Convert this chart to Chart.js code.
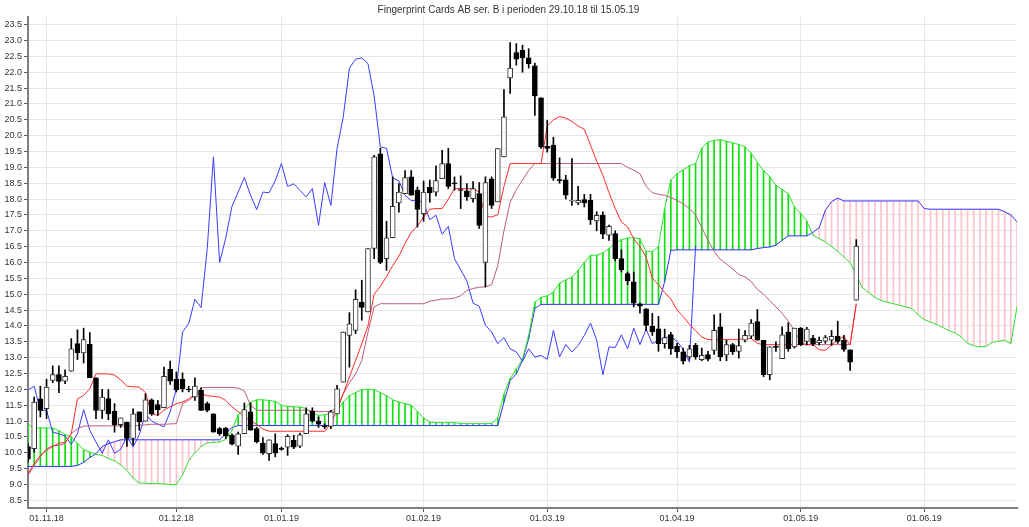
<!DOCTYPE html>
<html>
<head>
<meta charset="utf-8">
<script src="https://cdn.jsdelivr.net/npm/chart.js@4.4.1/dist/chart.umd.min.js"></script>
<style>
  html, body { margin: 0; padding: 0; background: #fff; }
  #wrap { width: 1029px; height: 527px; }
</style>
</head>
<body>
<div id="wrap"><canvas id="chart" width="1029" height="527"></canvas></div>
<script>
const TITLE = 'Fingerprint Cards AB ser. B i perioden 29.10.18 til 15.05.19';

// month ticks (trading day index -> label)
const tickIndex = [3, 24, 41, 64, 84, 105, 125, 145];
const tickLabels = ['01.11.18', '01.12.18', '01.01.19', '01.02.19', '01.03.19', '01.04.19', '01.05.19', '01.06.19'];

// daily candles 29.10.18 - 15.05.19
const opens = [
  10.2, 10.13, 11.7, 11.39, 12.28, 12.47, 12.26, 12.57, 13.44, 13.15,
  13.42, 12.36, 11.34, 11.71, 11.31, 10.89, 10.97, 10.45, 11.29, 11.0,
  11.67, 11.52, 11.42, 12.63, 12.32, 12.32, 12.0, 11.76, 11.97, 11.55,
  11.23, 10.76, 10.78, 10.55, 10.21, 10.6, 11.29, 10.76, 10.31, 9.97,
  10.29, 10.15, 10.18, 10.39, 10.21, 10.6, 11.31, 11.0, 10.84, 10.83,
  11.23, 12.23, 13.7, 13.86, 14.75, 14.44, 16.44, 19.43, 16.12, 16.78,
  17.88, 18.17, 18.7, 18.28, 17.54, 18.37, 18.22, 18.64, 19.12, 18.5,
  18.3, 18.26, 18.01, 18.17, 16.0, 18.64, 17.91, 19.33, 21.82, 22.62,
  22.69, 22.45, 22.2, 21.19, 19.66, 19.7, 18.6, 18.61, 17.93, 17.88,
  17.98, 17.96, 17.31, 17.49, 16.86, 16.91, 16.12, 15.65, 15.39, 14.7,
  14.54, 13.99, 13.91, 13.44, 13.73, 13.36, 13.18, 13.02, 13.39, 12.94,
  13.1, 13.23, 13.97, 13.09, 13.41, 13.2, 13.55, 13.68, 14.14, 13.55,
  12.46, 13.36, 12.97, 13.81, 13.34, 13.93, 13.51, 13.62, 13.47, 13.52,
  13.55, 13.68, 13.55, 13.25, 14.81
];
const highs = [
  10.3, 11.76, 12.1, 12.32, 12.74, 12.74, 12.62, 13.6, 13.88, 13.93,
  13.79, 12.36, 12.0, 11.99, 11.55, 11.1, 10.97, 11.39, 11.29, 11.86,
  11.7, 11.65, 12.7, 12.89, 12.55, 12.52, 12.1, 12.36, 12.05, 11.6,
  11.23, 10.8, 10.8, 10.6, 10.65, 11.57, 11.57, 10.81, 10.48, 10.41,
  10.6, 10.18, 10.57, 10.55, 10.62, 11.42, 11.42, 11.13, 10.92, 11.34,
  12.13, 13.81, 14.42, 15.14, 15.44, 16.44, 19.38, 19.6, 17.3, 18.7,
  18.49, 18.9, 18.9, 18.38, 18.57, 18.6, 19.05, 19.54, 19.6, 18.7,
  18.73, 18.49, 18.55, 18.52, 18.7, 18.7, 19.59, 21.45, 22.93, 22.9,
  22.85, 22.74, 22.29, 21.19, 20.48, 19.95, 19.3, 18.75, 19.28, 18.4,
  18.15, 18.15, 17.6, 17.6, 17.18, 17.0, 16.4, 15.7, 15.7, 14.72,
  14.55, 14.4, 14.3, 13.9, 13.8, 13.45, 13.3, 13.39, 13.45, 13.3,
  13.2, 14.35, 14.39, 13.55, 13.45, 13.9, 13.85, 14.2, 14.52, 13.55,
  13.34, 13.5, 13.97, 14.1, 13.93, 13.95, 13.96, 13.7, 13.65, 13.7,
  13.86, 14.15, 13.7, 13.25, 16.72
];
const lows = [
  9.7, 10.02, 11.13, 11.08, 12.21, 11.9, 12.18, 12.57, 12.94, 12.83,
  12.37, 11.08, 11.08, 11.04, 10.65, 10.8, 10.2, 10.25, 10.71, 11.0,
  11.18, 11.18, 11.42, 12.16, 11.92, 11.92, 11.92, 11.65, 11.34, 11.29,
  10.65, 10.55, 10.45, 10.25, 9.95, 10.6, 10.71, 10.31, 9.95, 9.76,
  9.87, 10.08, 9.92, 10.13, 10.16, 10.6, 10.97, 10.8, 10.76, 10.76,
  11.23, 12.23, 12.7, 13.76, 14.18, 14.44, 16.12, 15.96, 15.75, 16.78,
  17.59, 18.17, 18.12, 17.12, 17.3, 17.9, 18.1, 18.64, 18.33, 18.28,
  17.7, 17.96, 17.9, 17.07, 15.23, 17.7, 17.91, 19.33, 21.33, 22.22,
  22.0, 22.13, 20.64, 19.6, 19.48, 18.59, 18.5, 18.0, 17.8, 17.82,
  17.75, 17.2, 17.0, 16.75, 16.7, 16.05, 15.7, 15.3, 14.6, 14.4,
  13.85, 13.7, 13.2, 13.3, 13.1, 13.0, 12.8, 12.95, 12.95, 12.9,
  12.9, 13.1, 12.9, 12.9, 13.1, 12.98, 13.5, 13.6, 13.55, 12.4,
  12.3, 13.2, 12.97, 13.2, 13.3, 13.38, 13.4, 13.38, 13.4, 13.45,
  13.39, 13.45, 13.2, 12.6, 14.81
];
const closes = [
  9.8, 11.6, 11.34, 12.07, 12.47, 12.25, 12.41, 13.28, 13.16, 13.57,
  12.37, 11.34, 11.76, 11.23, 10.89, 11.1, 10.45, 11.23, 10.97, 11.67,
  11.23, 11.36, 12.41, 12.26, 11.99, 12.02, 11.98, 12.1, 11.34, 11.34,
  10.65, 10.6, 10.53, 10.27, 10.6, 11.36, 10.71, 10.34, 9.99, 10.41,
  9.99, 10.11, 10.52, 10.18, 10.57, 11.23, 11.0, 10.9, 10.82, 11.29,
  12.02, 13.81, 14.07, 14.84, 14.58, 16.44, 19.33, 16.0, 16.78, 17.77,
  18.22, 18.68, 18.12, 17.67, 18.22, 18.2, 18.58, 19.12, 18.4, 18.48,
  18.27, 18.07, 18.33, 17.17, 18.52, 17.8, 19.59, 20.59, 22.13, 22.41,
  22.45, 22.27, 21.25, 19.64, 19.6, 18.66, 18.58, 18.12, 17.95, 17.96,
  17.88, 17.35, 17.49, 16.89, 17.14, 16.12, 15.77, 15.42, 14.72, 14.62,
  14.02, 13.81, 13.44, 13.63, 13.28, 13.18, 12.89, 13.28, 13.02, 13.07,
  12.95, 13.86, 13.02, 13.41, 13.18, 13.38, 13.7, 14.09, 13.55, 12.46,
  13.34, 13.32, 13.72, 13.28, 13.93, 13.41, 13.9, 13.44, 13.55, 13.63,
  13.67, 13.51, 13.26, 12.86, 16.52
];

// conversion line (red)
const tenkan = [
  9.34, 9.66, 9.92, 10.08, 10.2, 10.3, 10.33, 10.6, 11.7, 11.81,
  12.02, 12.49, 12.49, 12.49, 12.45, 12.3, 12.1, 12.08, 12.07, 11.9,
  11.23, 11.18, 11.35, 11.45, 11.55, 11.6, 11.7, 11.85, 11.86, 11.8,
  11.78, 11.76, 11.65, 11.45, 11.3, 11.15, 11.0, 10.9, 10.75, 10.68,
  10.68, 10.68, 10.68, 10.68, 10.68, 10.68, 10.68, 10.68, 10.68, 10.92,
  11.34, 11.86, 12.39, 12.91, 13.44, 14.0, 15.0, 15.25, 15.55, 15.9,
  16.2, 16.6, 16.95, 17.15, 17.44, 17.68, 17.7, 17.7, 18.0, 18.33,
  18.33, 18.33, 18.33, 18.22, 17.44, 17.44, 17.5, 18.4, 19.12, 19.12,
  19.12, 19.12, 19.12, 19.12, 20.3, 20.5, 20.6, 20.55, 20.45, 20.3,
  20.2, 19.7, 19.2, 18.75, 18.2, 17.7, 17.28, 17.12, 16.75, 16.5,
  16.17, 15.5, 15.3, 15.05, 14.85, 14.5, 14.3, 14.05, 13.85, 13.65,
  13.57, 13.57, 13.57, 13.57, 13.57, 13.57, 13.62, 13.6, 13.45, 13.41,
  13.41, 13.41, 13.41, 13.41, 13.41, 13.41, 13.41, 13.41, 13.25, 13.23,
  13.4, 13.55, 13.67, 13.4, 14.7
];
// base line (mauve)
const kijun = [
  9.29, 9.6, 9.87, 10.13, 10.23, 10.23, 10.3, 10.6, 10.76, 10.84,
  10.85, 10.85, 10.85, 10.85, 10.85, 10.85, 10.85, 10.85, 10.87, 10.88,
  10.9, 10.9, 10.9, 10.91, 10.92, 11.55, 11.65, 11.8, 12.05, 12.06,
  12.06, 12.06, 12.06, 12.06, 12.04, 11.95, 11.5, 11.34, 11.34, 11.34,
  11.34, 11.34, 11.34, 11.34, 11.34, 11.34, 11.32, 11.3, 11.3, 11.3,
  11.44, 11.86, 12.2, 12.49, 12.91, 13.8, 14.6, 14.7, 14.7, 14.7,
  14.7, 14.7, 14.7, 14.7, 14.7, 14.78, 14.81, 14.85, 14.85, 14.88,
  14.95, 15.12, 15.18, 15.22, 15.23, 15.3, 15.9, 17.0, 17.9, 18.3,
  18.6, 18.9, 19.12, 19.12, 19.12, 19.12, 19.12, 19.12, 19.12, 19.12,
  19.12, 19.12, 19.12, 19.12, 19.12, 19.12, 19.12, 19.0, 18.91, 18.8,
  18.4, 18.2, 18.15, 18.12, 18.05, 17.96, 17.85, 17.7, 17.5, 17.1,
  16.7, 16.35, 16.1, 15.95, 15.8, 15.62, 15.55, 15.4, 15.15, 15.0,
  14.8, 14.6, 14.4, 14.15, 13.85, 13.5, 13.41, 13.41, 13.41, 13.41,
  13.41, 13.41, 13.41, 13.41, 14.7
];
// leading span A (green), 26 days ahead
const spanA = [
  10.92, 10.76, 10.79, 10.78, 10.78, 10.7, 10.58, 10.5, 10.3, 10.1,
  10.02, 9.95, 9.92, 9.82, 9.75, 9.62, 9.45, 9.2, 9.05, 9.04,
  9.03, 9.03, 9.02, 9.0, 9.0, 9.3, 9.75, 10.0, 10.2, 10.31,
  10.33, 10.34, 10.42, 10.7, 11.2, 11.39, 11.6, 11.67, 11.67, 11.65,
  11.62, 11.5, 11.46, 11.45, 11.44, 11.4, 11.25, 11.18, 11.2, 11.25,
  11.34, 11.6, 11.8, 11.9, 11.99, 12.0, 11.99, 11.9, 11.8, 11.67,
  11.6, 11.55, 11.5, 11.3, 11.1, 10.97, 10.95, 10.95, 10.95, 10.95,
  10.93, 10.92, 10.92, 10.92, 10.92, 10.93, 11.1, 11.86, 12.34, 12.65,
  12.95, 13.7, 14.75, 14.9, 14.95, 15.07, 15.35, 15.45, 15.54, 15.75,
  16.0, 16.23, 16.23, 16.3, 16.45, 16.6, 16.72, 16.77, 16.78, 16.75,
  16.35, 16.35, 16.5, 17.7, 18.6, 18.8, 18.92, 19.05, 19.12, 19.6,
  19.8, 19.85, 19.87, 19.82, 19.77, 19.72, 19.65, 19.45, 19.15, 18.9,
  18.7, 18.43, 18.3, 18.17, 17.75, 17.55, 17.3, 16.86, 16.75, 16.65,
  16.5, 16.35, 16.17, 16.0, 15.6, 15.2, 15.05, 14.9, 14.8, 14.75,
  14.7, 14.65, 14.6, 14.55, 14.35, 14.2, 14.12, 14.05, 13.95, 13.85,
  13.78, 13.65, 13.45, 13.38, 13.34, 13.36, 13.48, 13.52, 13.55, 13.44,
  14.6
];
// leading span B (blue), 26 days ahead
const spanB = [
  9.57, 9.57, 9.57, 9.57, 9.57, 9.57, 9.57, 9.57, 9.6, 9.7,
  9.85, 9.97, 10.2, 10.29, 10.35, 10.41, 10.41, 10.41, 10.41, 10.41,
  10.41, 10.41, 10.41, 10.41, 10.41, 10.41, 10.41, 10.41, 10.41, 10.41,
  10.41, 10.41, 10.6, 10.8, 10.86, 10.86, 10.86, 10.86, 10.86, 10.86,
  10.86, 10.86, 10.86, 10.86, 10.86, 10.86, 10.86, 10.86, 10.86, 10.86,
  10.86, 10.86, 10.86, 10.86, 10.86, 10.86, 10.86, 10.86, 10.86, 10.86,
  10.86, 10.86, 10.86, 10.86, 10.86, 10.86, 10.86, 10.86, 10.86, 10.86,
  10.86, 10.86, 10.86, 10.86, 10.86, 10.86, 10.86, 11.6, 12.28, 12.49,
  12.91, 13.6, 14.55, 14.68, 14.68, 14.68, 14.68, 14.68, 14.68, 14.68,
  14.68, 14.68, 14.68, 14.68, 14.68, 14.68, 14.68, 14.68, 14.68, 14.68,
  14.68, 14.68, 14.68, 15.4, 16.38, 16.4, 16.4, 16.4, 16.4, 16.4,
  16.4, 16.4, 16.4, 16.4, 16.4, 16.4, 16.4, 16.4, 16.44, 16.47,
  16.49, 16.55, 16.7, 16.84, 16.84, 16.84, 16.84, 16.95, 17.1, 17.65,
  17.92, 18.03, 17.94, 17.94, 17.94, 17.94, 17.94, 17.94, 17.94, 17.94,
  17.94, 17.94, 17.94, 17.94, 17.94, 17.7, 17.68, 17.68, 17.68, 17.68,
  17.68, 17.68, 17.68, 17.68, 17.68, 17.68, 17.68, 17.68, 17.6, 17.5,
  17.28
];
const LAG = 26; // lagging span = close plotted 26 days back

const days = spanA.map((_, i) => i);
const chikou = days.map(i => (i + LAG < closes.length ? closes[i + LAG] : null));
const isUp = closes.map((c, i) => c >= opens[i]);

const axisFont = { family: 'Liberation Sans, Arial, sans-serif', size: 9 };

function lineSet(data, color, order) {
  return {
    type: 'line', data, borderColor: color, borderWidth: 1,
    pointRadius: 0, tension: 0, fill: false, spanGaps: false, order
  };
}

new Chart(document.getElementById('chart'), {
  type: 'bar',
  data: {
    labels: days,
    datasets: [
      {
        // cloud hatching
        data: days.map(i => [Math.min(spanA[i], spanB[i]), Math.max(spanA[i], spanB[i])]),
        backgroundColor: days.map(i => (spanA[i] >= spanB[i] ? '#10e010' : '#ffc2cc')),
        barThickness: 1, grouped: false, order: 9
      },
      lineSet(spanB, '#3030ff', 7),
      lineSet(spanA, '#30e030', 6),
      lineSet(chikou, '#3b3bff', 5),
      lineSet(kijun, '#bb5c80', 4),
      lineSet(tenkan, '#ff2a2a', 3),
      {
        // wicks
        data: closes.map((c, i) => [lows[i], highs[i]]),
        backgroundColor: '#000', barThickness: 1, grouped: false, order: 2
      },
      {
        // bodies
        data: closes.map((c, i) => [opens[i], c]),
        backgroundColor: isUp.map(u => (u ? '#fff' : '#000')),
        borderColor: isUp.map(u => (u ? '#333' : '#000')),
        borderWidth: 1, borderSkipped: false, minBarLength: 1,
        barThickness: 5, grouped: false, order: 1
      }
    ]
  },
  options: {
    responsive: false,
    animation: false,
    events: [],
    layout: { padding: { left: 0, right: 12, top: 0, bottom: 0 } },
    plugins: {
      legend: { display: false },
      tooltip: { enabled: false },
      title: {
        display: true, text: TITLE, color: '#333',
        font: { family: 'Liberation Sans, Arial, sans-serif', size: 10, weight: 'normal' },
        padding: { top: 4, bottom: 1 }
      }
    },
    scales: {
      x: {
        type: 'category',
        offset: false,
        grid: { offset: false, color: '#e6e6e6', tickColor: '#555', tickLength: 4 },
        border: { color: '#808080', width: 2 },
        ticks: {
          autoSkip: false, maxRotation: 0, padding: 1, color: '#333', font: axisFont,
          callback: (v, i) => {
            const k = tickIndex.indexOf(i);
            return k >= 0 ? tickLabels[k] : null;
          }
        },
        afterFit: s => { s.height = 19; }
      },
      y: {
        min: 8.26, max: 23.74,
        grid: { color: '#e6e6e6', tickColor: '#555', tickLength: 4 },
        border: { color: '#808080', width: 2 },
        ticks: {
          stepSize: 0.5, includeBounds: false, padding: 2, color: '#333', font: axisFont,
          callback: v => v.toFixed(1)
        },
        afterFit: s => { s.width = 28; }
      }
    }
  }
});
</script>
</body>
</html>
